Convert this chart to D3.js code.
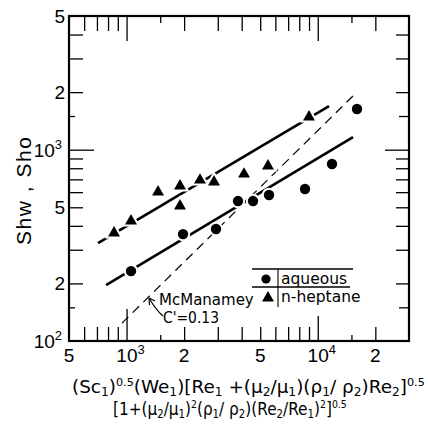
<!DOCTYPE html>
<html>
<head>
<meta charset="utf-8">
<script src="https://cdn.jsdelivr.net/npm/d3@7"></script>
<style>
  html, body { margin: 0; padding: 0; background: #fff; }
  svg { display: block; }
</style>
</head>
<body>
<svg id="chart" width="428" height="433"></svg>
<script>
"use strict";

/* ── Data ───────────────────────────────────────────────────────── */

// n-heptane (triangles)
const heptaneX = [860, 1055, 1461, 1903, 1903, 2421, 2866, 4114, 5490, 8995];
const heptaneY = [367, 424, 601, 646, 508, 694, 678, 746, 822, 1483];

// aqueous (circles)
const aqueousX = [1055, 1974, 2936, 3827, 4585, 5560, 8576, 11870, 16040];
const aqueousY = [232, 362, 385, 539, 539, 580, 623, 842, 1633];

// fitted lines and McManamey correlation (C' = 0.13)
const heptaneFitX = [709, 11450];
const heptaneFitY = [325, 1692];
const aqueousFitX = [781, 15290];
const aqueousFitY = [196, 1165];
const mcmanameyX = [946, 16040];
const mcmanameyY = [124, 2003];

// ticks
const xMajor = [1000, 10000];
const xMinor = [600, 700, 800, 900, 2000, 3000, 4000, 5000, 6000, 7000, 8000, 9000, 20000];
const xHalf = [1500, 15000];
const yMajor = [1000];
const yMinor = [200, 300, 400, 500, 600, 700, 800, 900, 2000, 3000, 4000];
const yHalf = [150, 1500];

const xLabelValues = [500, 1000, 2000, 5000, 10000, 20000];
const xLabelText = ["5", "10^3", "2", "5", "10^4", "2"];
const yLabelValues = [100, 200, 500, 1000, 2000, 5000];
const yLabelText = ["10^2", "2", "5", "10^3", "2", "5"];

/* ── Layout ─────────────────────────────────────────────────────── */

const L = 69, R = 409, T = 16, B = 341;
const svg = d3.select("#chart");

const x = d3.scaleLog().domain([500, 30000]).range([L, R]);
const y = d3.scaleLog().domain([100, 5000]).range([B, T]);

const NUM_FONT = "'Liberation Sans', Arial, sans-serif";
const TXT_FONT = "'DejaVu Sans', sans-serif";

/* ── Ticks (all inward) ─────────────────────────────────────────── */

function tickGroup(axis, tx, ty) {
  const g = svg.append("g").attr("transform", "translate(" + tx + "," + ty + ")").call(axis);
  g.select(".domain").remove();
  g.selectAll(".tick line").attr("stroke", "#000").attr("stroke-width", 1.3);
  g.selectAll(".tick text").remove();
  return g;
}

[[xMinor, 14], [xHalf, 6], [[1000], 32], [[10000], 25]].forEach(function (s) {
  tickGroup(d3.axisBottom(x).tickValues(s[0]).tickSize(-s[1]).tickFormat(""), 0, B);
});
[[xMinor, 15], [xHalf, 7], [xMajor, 25]].forEach(function (s) {
  tickGroup(d3.axisTop(x).tickValues(s[0]).tickSize(-s[1]).tickFormat(""), 0, T);
});
[[yMinor, 14], [yHalf, 6], [yMajor, 25]].forEach(function (s) {
  tickGroup(d3.axisLeft(y).tickValues(s[0]).tickSize(-s[1]).tickFormat(""), L, 0);
});
[[yMinor, 13], [yHalf, 10], [yMajor, 24]].forEach(function (s) {
  tickGroup(d3.axisRight(y).tickValues(s[0]).tickSize(-s[1]).tickFormat(""), R, 0);
});

// frame
svg.append("rect")
  .attr("x", L).attr("y", T).attr("width", R - L).attr("height", B - T)
  .attr("fill", "none").attr("stroke", "#000").attr("stroke-width", 2.2);

/* ── Tick labels ────────────────────────────────────────────────── */

function powerLabel(sel, txt) {
  const parts = txt.split("^");
  sel.append("tspan").text(parts[0]);
  if (parts[1]) {
    sel.append("tspan").attr("font-size", 13).attr("dy", -8).text(parts[1]);
  }
}

xLabelValues.forEach(function (v, i) {
  const t = svg.append("text")
    .attr("x", x(v) + (xLabelText[i].indexOf("^") > 0 ? 4 : 0))
    .attr("y", 362)
    .attr("text-anchor", "middle")
    .attr("font-family", NUM_FONT).attr("font-size", 19);
  powerLabel(t, xLabelText[i]);
});

yLabelValues.forEach(function (v, i) {
  const t = svg.append("text")
    .attr("x", yLabelText[i].indexOf("^") > 0 ? 62 : 65)
    .attr("y", y(v) + 7)
    .attr("text-anchor", "end")
    .attr("font-family", NUM_FONT).attr("font-size", 19);
  powerLabel(t, yLabelText[i]);
});

/* ── Lines ──────────────────────────────────────────────────────── */

const line = d3.line().x(function (d) { return x(d[0]); }).y(function (d) { return y(d[1]); });

svg.append("path")
  .datum(d3.zip(mcmanameyX, mcmanameyY))
  .attr("d", line).attr("fill", "none")
  .attr("stroke", "#000").attr("stroke-width", 1.2).attr("stroke-dasharray", "9,6");

[[heptaneFitX, heptaneFitY], [aqueousFitX, aqueousFitY]].forEach(function (f) {
  svg.append("path")
    .datum(d3.zip(f[0], f[1]))
    .attr("d", line).attr("fill", "none")
    .attr("stroke", "#000").attr("stroke-width", 2.6);
});

/* ── Markers (white halo breaks the lines, as in the print) ─────── */

const tri = d3.symbol().type(d3.symbolTriangle).size(62);

svg.append("g").selectAll("path")
  .data(d3.zip(heptaneX, heptaneY))
  .join("path")
  .attr("d", tri)
  .attr("transform", function (d) { return "translate(" + x(d[0]) + "," + y(d[1]) + ")"; })
  .attr("fill", "#000").attr("stroke", "#fff").attr("stroke-width", 4)
  .style("paint-order", "stroke");

svg.append("g").selectAll("circle")
  .data(d3.zip(aqueousX, aqueousY))
  .join("circle")
  .attr("cx", function (d) { return x(d[0]); })
  .attr("cy", function (d) { return y(d[1]); })
  .attr("r", 5.2)
  .attr("fill", "#000").attr("stroke", "#fff").attr("stroke-width", 4)
  .style("paint-order", "stroke");

/* ── McManamey annotation ───────────────────────────────────────── */

svg.append("text").attr("x", 159).attr("y", 305)
  .attr("font-family", TXT_FONT).attr("font-size", 15).text("McManamey");
svg.append("text").attr("x", 163).attr("y", 323)
  .attr("font-family", TXT_FONT).attr("font-size", 15)
  .attr("textLength", 56).attr("lengthAdjust", "spacingAndGlyphs").text("C'=0.13");
svg.append("path")
  .attr("d", "M163,316 Q156,310 149,298 M149,298 L149.5,305 M149,298 L155,301")
  .attr("fill", "none").attr("stroke", "#000").attr("stroke-width", 1.2);

/* ── Legend ─────────────────────────────────────────────────────── */

const lg = svg.append("g");
lg.append("line").attr("x1", 252).attr("x2", 353).attr("y1", 269).attr("y2", 269)
  .attr("stroke", "#000").attr("stroke-width", 1.3);
lg.append("line").attr("x1", 252).attr("x2", 350).attr("y1", 287).attr("y2", 287)
  .attr("stroke", "#000").attr("stroke-width", 1.3);
lg.append("line").attr("x1", 278).attr("x2", 278).attr("y1", 269).attr("y2", 307)
  .attr("stroke", "#000").attr("stroke-width", 1.1);
lg.append("circle").attr("cx", 266).attr("cy", 279).attr("r", 4.6).attr("fill", "#000");
lg.append("path").attr("d", tri).attr("transform", "translate(268,298)").attr("fill", "#000");
lg.append("text").attr("x", 281).attr("y", 284)
  .attr("font-family", TXT_FONT).attr("font-size", 15.5).text("aqueous");
lg.append("text").attr("x", 281).attr("y", 302)
  .attr("font-family", TXT_FONT).attr("font-size", 15.5).text("n-heptane");

/* ── Axis titles ────────────────────────────────────────────────── */

svg.append("text")
  .attr("transform", "translate(31,191) rotate(-90)")
  .attr("text-anchor", "middle")
  .attr("font-family", NUM_FONT).attr("font-size", 21)
  .attr("textLength", 108).attr("lengthAdjust", "spacing")
  .text("Shw , Sho");

// rich text: [text, mode] where mode is "", "sub" or "sup"
function richLine(parts, baseY) {
  const t = svg.append("text").attr("x", 0).attr("y", baseY)
    .attr("font-family", TXT_FONT).attr("font-size", 18);
  let shift = 0;
  parts.forEach(function (p) {
    const target = p[1] === "sub" ? 3 : p[1] === "sup" ? -7 : 0;
    t.append("tspan")
      .attr("dy", target - shift)
      .attr("font-size", p[1] === "sub" ? 12 : p[1] === "sup" ? 11 : 18)
      .text(p[0]);
    shift = target;
  });
  return t;
}

const title1 = richLine([
  ["(Sc", ""], ["1", "sub"], [")", ""], ["0.5", "sup"], ["(We", ""], ["1", "sub"], [")[Re", ""],
  ["1", "sub"], [" +(\u03BC", ""], ["2", "sub"], ["/\u03BC", ""], ["1", "sub"], [")(\u03C1", ""],
  ["1", "sub"], ["/ \u03C1", ""], ["2", "sub"], [")Re", ""], ["2", "sub"], ["]", ""], ["0.5", "sup"]
], 393);

const title2 = richLine([
  ["[1+(\u03BC", ""], ["2", "sub"], ["/\u03BC", ""], ["1", "sub"], [")", ""], ["2", "sup"],
  ["(\u03C1", ""], ["1", "sub"], ["/ \u03C1", ""], ["2", "sub"], [")(Re", ""], ["2", "sub"],
  ["/Re", ""], ["1", "sub"], [")", ""], ["2", "sup"], ["]", ""], ["0.5", "sup"]
], 415);

// squeeze each line horizontally to the span it has in the figure
const w1 = title1.node().getBBox().width;
const w2 = title2.node().getBBox().width;
title1.attr("transform", "translate(72,0) scale(" + (353 / w1) + ",1)");
title2.attr("transform", "translate(113,0) scale(" + (234 / w2) + ",1)");
</script>
</body>
</html>
